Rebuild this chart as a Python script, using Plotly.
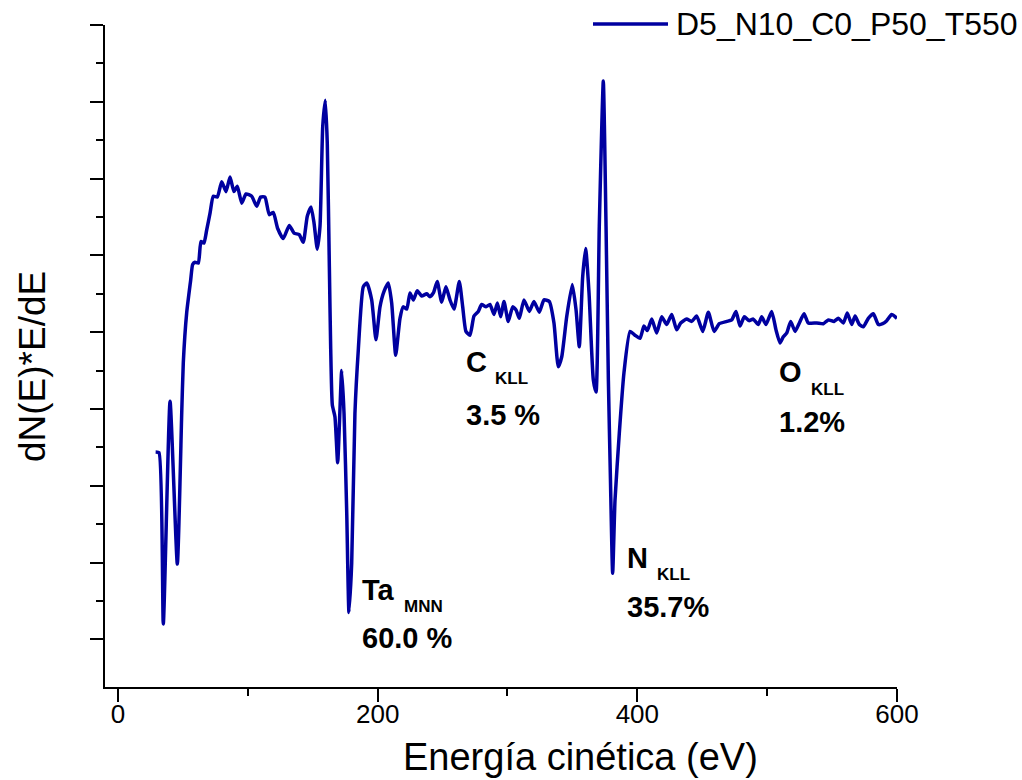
import plotly.graph_objects as go

# Auger spectrum (derivative mode), kinetic energy in eV vs dN(E)*E/dE (arb. units)
energy_ev = [
    29.0, 31.6, 34.9, 40.1, 45.7, 49.1, 50.3, 52.9, 56.0, 57.5, 59.3, 61.9, 63.9, 66.2,
    68.3, 70.9, 73.4, 76.5, 79.9, 83.2, 86.3, 89.3, 91.9, 95.3, 98.6, 103.0, 106.8,
    109.9, 113.2, 116.5, 119.6, 123.0, 127.3, 131.9, 135.6, 139.6, 142.7, 145.8, 148.7,
    151.0, 153.5, 155.6, 157.7, 159.7, 161.2, 162.8, 163.8, 165.1, 167.1, 169.2, 172.3,
    174.1, 176.2, 177.9, 180.0, 182.5, 185.1, 188.9, 191.6, 195.4, 198.7, 201.8, 204.9,
    208.2, 210.8, 213.9, 217.2, 219.7, 222.4, 224.9, 227.5, 230.5, 233.9, 237.8, 240.3,
    242.9, 245.9, 249.3, 252.6, 255.7, 258.8, 262.9, 265.5, 268.0, 271.1, 274.2, 277.5,
    280.1, 283.5, 286.5, 289.6, 292.2, 294.8, 297.3, 300.6, 304.0, 306.6, 309.1, 312.7,
    316.8, 320.4, 324.5, 328.1, 332.2, 335.8, 339.1, 341.8, 345.6, 349.9, 352.8, 355.3,
    357.9, 360.2, 362.8, 366.1, 368.2, 370.7, 373.8, 375.9, 377.7, 379.3, 381.0, 382.8,
    386.1, 389.7, 394.4, 398.2, 402.1, 405.1, 407.7, 411.1, 414.9, 418.8, 422.6, 426.5,
    430.3, 433.4, 438.0, 441.9, 445.7, 450.4, 454.7, 459.1, 463.1, 468.9, 472.7, 476.0,
    479.1, 482.4, 486.0, 489.3, 493.2, 495.8, 499.1, 503.5, 506.8, 509.9, 512.4, 515.1,
    518.1, 521.5, 524.8, 528.4, 531.7, 538.2, 543.3, 547.1, 551.5, 554.8, 558.7, 561.7,
    565.1, 567.7, 571.0, 574.1, 577.9, 581.8, 585.6, 589.0, 592.1, 595.9, 600.0,
]
intensity = [
    2.44, 2.43, 0.20, 3.10, 0.98, 2.95, 3.60, 4.25, 4.68, 4.88, 4.91, 4.90, 5.18, 5.16,
    5.33, 5.55, 5.77, 5.76, 5.96, 5.83, 6.02, 5.83, 5.90, 5.68, 5.80, 5.77, 5.64,
    5.76, 5.76, 5.53, 5.56, 5.35, 5.22, 5.39, 5.29, 5.27, 5.17, 5.51, 5.63,
    5.42, 5.08, 5.38, 6.68, 7.02, 6.46, 4.85, 3.81, 3.05, 2.90, 2.30, 3.50,
    2.94, 1.64, 0.35, 0.99, 2.94, 3.77, 4.59, 4.64, 4.42, 3.90, 4.33, 4.53,
    4.64, 4.38, 3.70, 4.18, 4.33, 4.30, 4.51, 4.42, 4.54, 4.47, 4.50, 4.46,
    4.51, 4.66, 4.39, 4.59, 4.42, 4.30, 4.66, 4.33, 4.01, 3.96, 4.21, 4.27,
    4.36, 4.33, 4.36, 4.23, 4.38, 4.20, 4.40, 4.14, 4.33, 4.29, 4.18, 4.42,
    4.27, 4.40, 4.26, 4.42, 4.40, 4.12, 3.55, 3.68, 4.20, 4.62, 4.29, 3.81,
    4.72, 5.09, 4.51, 3.38, 3.22, 5.38, 7.27, 5.38, 3.38, 2.08, 0.86, 1.81,
    2.68, 3.47, 4.01, 3.96, 3.92, 4.08, 4.02, 4.17, 3.99, 4.20, 4.10, 4.23,
    4.03, 4.12, 4.17, 4.14, 4.21, 4.01, 4.26, 4.01, 4.11, 4.14, 4.16, 4.27,
    4.08, 4.20, 4.15, 4.17, 4.10, 4.20, 4.10, 4.27, 4.03, 3.86, 3.94, 3.99,
    4.14, 4.01, 4.12, 4.24, 4.12, 4.12, 4.11, 4.16, 4.14, 4.18, 4.12, 4.25,
    4.10, 4.21, 4.10, 4.07, 4.18, 4.24, 4.10, 4.11, 4.15, 4.23, 4.18,
]

series_name = "D5_N10_C0_P50_T550"

# Peak labels: element, transition, atomic concentration
peak_elements = ["Ta", "C", "N", "O"]
peak_transitions = ["MNN", "KLL", "KLL", "KLL"]
peak_concentrations = ["60.0 %", "3.5 %", "35.7%", "1.2%"]

x_major_ticks = [0, 200, 400, 600]
x_minor_ticks = [100, 300, 500]

LINE_COLOR = "#0000A0"
FONT = "Liberation Sans, Arial, sans-serif"

W, H = 1022, 780
L, R, T, B = 105, 125, 25, 93
PW, PH = W - L - R, H - T - B


def px(xp):
    return (xp - L) / PW


def py(yp):
    return (H - B - yp) / PH


fig = go.Figure()
fig.add_trace(go.Scatter(
    x=energy_ev, y=intensity, mode="lines", name=series_name,
    line=dict(color=LINE_COLOR, width=3.5, shape="spline", smoothing=0.5),
    showlegend=False,
))

# label layout: (left px, main-line centre, subscript centre, percent centre, subscript left)
label_pos = [
    (361, 590, 606, 638, 403),
    (465, 362, 378, 415, 494),
    (626, 558, 574, 607, 656),
    (778, 372, 389, 422, 810),
]
ann = []
for el, tr, conc, (lx, cy, sy, pcy, sx) in zip(
        peak_elements, peak_transitions, peak_concentrations, label_pos):
    ann.append(dict(x=px(lx), y=py(cy), text=f"<b>{el}</b>", xref="paper", yref="paper",
                    xanchor="left", yanchor="middle", showarrow=False, borderpad=0,
                    font=dict(family=FONT, size=29, color="black")))
    ann.append(dict(x=px(sx), y=py(sy), text=f"<b>{tr}</b>", xref="paper", yref="paper",
                    xanchor="left", yanchor="middle", showarrow=False, borderpad=0,
                    font=dict(family=FONT, size=17, color="black")))
    ann.append(dict(x=px(lx), y=py(pcy), text=f"<b>{conc}</b>", xref="paper", yref="paper",
                    xanchor="left", yanchor="middle", showarrow=False, borderpad=0,
                    font=dict(family=FONT, size=29, color="black")))

# axis titles
ann.append(dict(x=px(580), y=py(779), text="Energía cinética (eV)",
                xref="paper", yref="paper", xanchor="center", yanchor="bottom",
                showarrow=False, borderpad=0,
                font=dict(family=FONT, size=38, color="black")))
ann.append(dict(x=px(32), y=py(367), text="dN(E)*E/dE", xref="paper", yref="paper",
                xanchor="center", yanchor="middle", showarrow=False, textangle=-90,
                font=dict(family=FONT, size=37, color="black")))
# legend entry
ann.append(dict(x=px(675), y=py(24), text=series_name, xref="paper", yref="paper",
                xanchor="left", yanchor="middle", showarrow=False, borderpad=0,
                font=dict(family=FONT, size=32, color="black")))

fig.update_layout(
    width=W, height=H,
    margin=dict(l=L, r=R, t=T, b=B, pad=0),
    paper_bgcolor="white", plot_bgcolor="white",
    annotations=ann,
    shapes=[dict(type="line", xref="paper", yref="paper",
                 x0=px(593), x1=px(668), y0=py(24), y1=py(24),
                 line=dict(color=LINE_COLOR, width=3.5))],
    xaxis=dict(
        range=[-10, 600], showgrid=False, zeroline=False,
        showline=True, linecolor="black", linewidth=2,
        ticks="outside", ticklen=13, tickwidth=2, tickcolor="black",
        tickmode="array", tickvals=x_major_ticks,
        ticktext=[str(v) for v in x_major_ticks],
        tickfont=dict(family=FONT, size=26, color="black"),
        ticklabelstandoff=-10,
        minor=dict(tickmode="array", tickvals=x_minor_ticks, ticks="outside",
                   ticklen=7, tickwidth=2, tickcolor="black", showgrid=False),
    ),
    yaxis=dict(
        range=[-0.621, 8.0], showgrid=False, zeroline=False,
        showline=True, linecolor="black", linewidth=2,
        ticks="outside", ticklen=13, tickwidth=2, tickcolor="black",
        tickmode="array", tickvals=list(range(0, 9)), showticklabels=False,
        minor=dict(tickmode="array", tickvals=[i + 0.5 for i in range(0, 8)],
                   ticks="outside", ticklen=7, tickwidth=2, tickcolor="black",
                   showgrid=False),
    ),
)

fig.write_html("out.html")
